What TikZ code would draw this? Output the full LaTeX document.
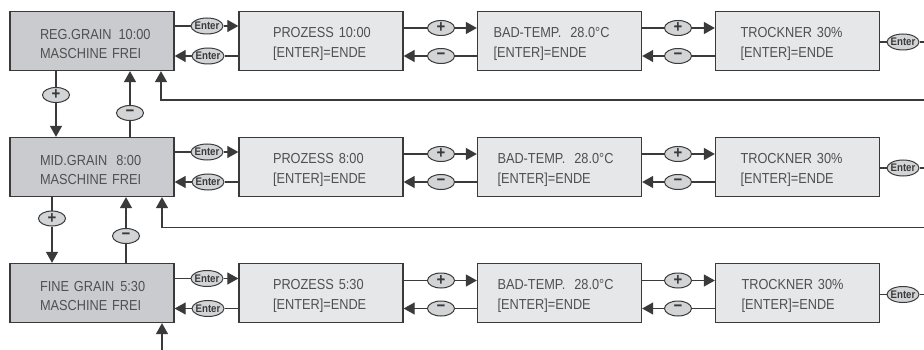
\documentclass[tikz,border=0pt]{standalone}
\usepackage{fontspec}
\setmainfont{Liberation Sans}[FakeStretch=0.88]
\usetikzlibrary{arrows.meta,calc,shapes.geometric}
\definecolor{ln}{HTML}{3A3A3A}
\definecolor{txt}{HTML}{505050}
\definecolor{mainfill}{HTML}{C9CBCE}
\definecolor{subfill}{HTML}{E6E7E8}
\definecolor{btnfill}{HTML}{D2D4D6}
\hbadness=10000 \hfuzz=200pt
\newcommand\myTopStrut{\rule{0pt}{16pt}}
\tikzset{
  scr/.style={draw=ln, line width=1.3pt, minimum width=164pt, minimum height=59pt,
    inner sep=0pt, align=left, text width=#1, text=txt, font=\fontsize{14.5}{19.5}\selectfont},
  mainscr/.style={scr=104pt, fill=mainfill},
  subscr/.style={scr=#1, fill=subfill},
  entbtn/.style={ellipse, draw=ln, line width=1pt, fill=btnfill, minimum width=32pt,
    minimum height=16pt, inner xsep=-2.5pt, inner ysep=0pt, text=ln, font=\bfseries\fontsize{11}{11}\selectfont},
  pmbtn/.style={ellipse, draw=ln, line width=1pt, fill=btnfill, minimum width=27pt,
    minimum height=15pt, inner sep=-3pt, text=ln, font=\bfseries\fontsize{17}{17}\selectfont},
  wire/.style={draw=ln, line width=1.2pt},
  arr/.style={wire, -{Triangle[length=11pt,width=12pt]}}
}
\begin{document}
\begin{tikzpicture}[x=1pt,y=-1pt]
\useasboundingbox (0,0) rectangle (924,350);
\fill[white] (0,0) rectangle (924,350);

% ---------- row 1 ----------
\node[mainscr] (a1) at (92,41) {\myTopStrut\mbox{REG.GRAIN\hspace{7pt}10:00}\\\mbox{MASCHINE FREI}};
\node[subscr=96pt] (b1) at (321,41) {\myTopStrut\mbox{PROZESS 10:00}\\\mbox{[ENTER]=ENDE}};
\node[subscr=132pt] (c1) at (559.5,41) {\myTopStrut\mbox{BAD-TEMP.\hspace{9pt}28.0°C}\\\mbox{[ENTER]=ENDE}};
\node[subscr=114pt] (d1) at (797.5,41) {\myTopStrut\mbox{TROCKNER 30\%}\\\mbox{[ENTER]=ENDE}};
% ---------- row 2 ----------
\node[mainscr] (a2) at (92,167) {\myTopStrut\mbox{MID.GRAIN\hspace{9pt}8:00}\\\mbox{MASCHINE FREI}};
\node[subscr=96pt] (b2) at (321,167) {\myTopStrut\mbox{PROZESS 8:00}\\\mbox{[ENTER]=ENDE}};
\node[subscr=124pt] (c2) at (559.5,167) {\myTopStrut\mbox{BAD-TEMP.\hspace{9pt}28.0°C}\\\mbox{[ENTER]=ENDE}};
\node[subscr=114pt] (d2) at (797.5,167) {\myTopStrut\mbox{TROCKNER 30\%}\\\mbox{[ENTER]=ENDE}};
% ---------- row 3 ----------
\node[mainscr] (a3) at (92,293) {\myTopStrut\mbox{FINE GRAIN\hspace{6pt}5:30}\\\mbox{MASCHINE FREI}};
\node[subscr=96pt] (b3) at (321,293) {\myTopStrut\mbox{PROZESS 5:30}\\\mbox{[ENTER]=ENDE}};
\node[subscr=124pt] (c3) at (559.5,293) {\myTopStrut\mbox{BAD-TEMP.\hspace{9pt}28.0°C}\\\mbox{[ENTER]=ENDE}};
\node[subscr=112pt] (d3) at (797.5,293) {\myTopStrut\mbox{TROCKNER 30\%}\\\mbox{[ENTER]=ENDE}};

% ---------- horizontal chains ----------
\foreach \r/\t in {1/11, 2/137, 3/263.5}{
  \node[entbtn] (et\r) at (207,\t+15) {Enter};
  \node[entbtn] (eb\r) at (208,\t+45) {Enter};
  \node[pmbtn] (p1\r) at (441,\t+17) {+};
  \node[pmbtn] (m1\r) at (441,\t+45) {−};
  \node[pmbtn] (p2\r) at (678,\t+17) {+};
  \node[pmbtn] (m2\r) at (678,\t+45) {−};
  \node[entbtn] (er\r) at (903,\t+31) {Enter};
  \coordinate (rx\r) at (924,\t+31);
  \draw[wire] (a\r.east |- et\r) -- (et\r);
  \draw[arr] (et\r) -- (b\r.west |- et\r);
  \draw[wire] (b\r.west |- eb\r) -- (eb\r);
  \draw[arr] (eb\r) -- (a\r.east |- eb\r);
  \draw[wire] (b\r.east |- p1\r) -- (p1\r);
  \draw[arr] (p1\r) -- (c\r.west |- p1\r);
  \draw[wire] (c\r.west |- m1\r) -- (m1\r);
  \draw[arr] (m1\r) -- (b\r.east |- m1\r);
  \draw[wire] (c\r.east |- p2\r) -- (p2\r);
  \draw[arr] (p2\r) -- (d\r.west |- p2\r);
  \draw[wire] (d\r.west |- m2\r) -- (m2\r);
  \draw[arr] (m2\r) -- (c\r.east |- m2\r);
  \draw[wire] (d\r.east |- er\r) -- (er\r);
  \draw[wire] (er\r) -- (rx\r);
}

% ---------- vertical + / - ----------
\node[pmbtn] (pv1) at (56,95) {+};
\node[pmbtn] (mv1) at (130,113) {−};
\node[pmbtn] (pv2) at (52,218.5) {+};
\node[pmbtn] (mv2) at (126,236) {−};
\draw[wire] (a1.south -| pv1) -- (pv1);
\draw[arr] (pv1) -- (a2.north -| pv1);
\draw[wire] (a2.north -| mv1) -- (mv1);
\draw[arr] (mv1) -- (a1.south -| mv1);
\draw[wire] (a2.south -| pv2) -- (pv2);
\draw[arr] (pv2) -- (a3.north -| pv2);
\draw[wire] (a3.north -| mv2) -- (mv2);
\draw[arr] (mv2) -- (a2.south -| mv2);

% ---------- return lines ----------
\coordinate (fr1) at (924,100);
\coordinate (fb1) at (161,100);
\draw[arr] (fr1) -- (fb1) -- (fb1 |- a1.south);
\coordinate (fr2) at (924,227.5);
\coordinate (fb2) at (162,227.5);
\draw[arr] (fr2) -- (fb2) -- (fb2 |- a2.south);
\coordinate (fb3) at (162,350);
\draw[arr] (fb3) -- (fb3 |- a3.south);
\end{tikzpicture}
\end{document}
